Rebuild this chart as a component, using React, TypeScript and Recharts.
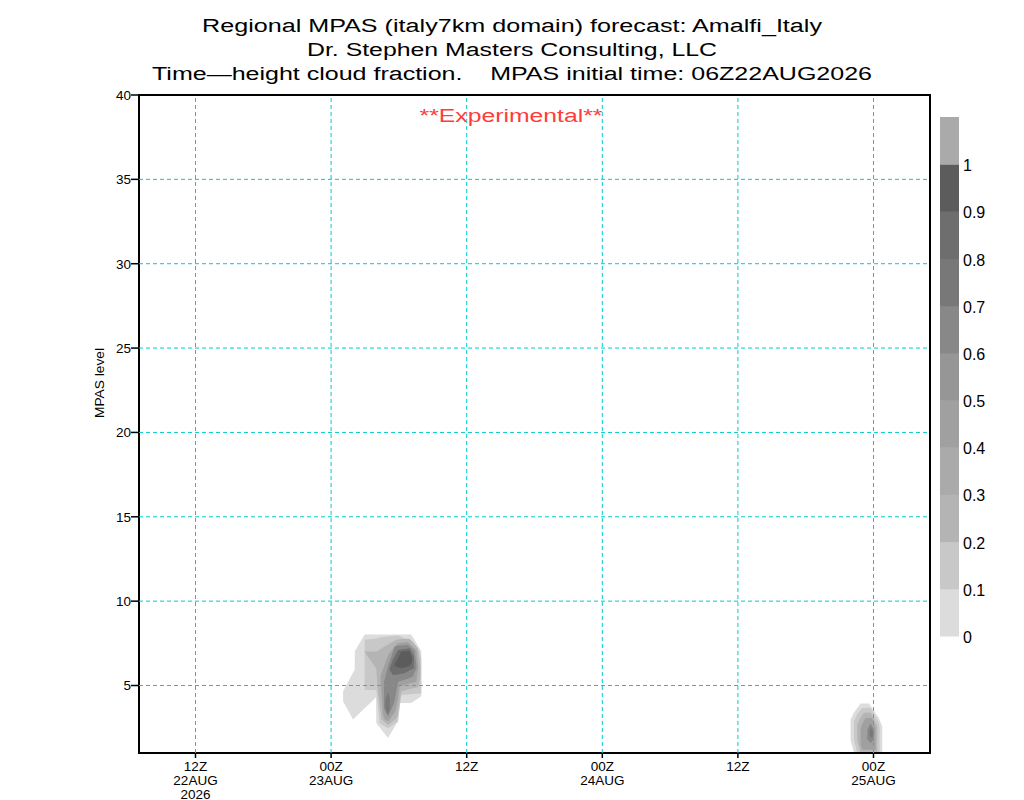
import React from 'react';
import { ComposedChart, Area, XAxis, YAxis, ReferenceLine, ReferenceArea } from 'recharts';

// ---- axes ----
const X_DOMAIN = [1, 71]; // forecast hours since 06Z22AUG2026
const X_TICKS = [6, 18, 30, 42, 54, 66];
const X_TICK_LABELS = [
  ['12Z', '22AUG', '2026'],
  ['00Z', '23AUG'],
  ['12Z'],
  ['00Z', '24AUG'],
  ['12Z'],
  ['00Z', '25AUG'],
];
const Y_DOMAIN = [1, 40];
const Y_TICKS = [5, 10, 15, 20, 25, 30, 35, 40];
const GRID_Y = [5, 10, 15, 20, 25, 30, 35];

// ---- colour bar ----
const CB_LABELS = ['0', '0.1', '0.2', '0.3', '0.4', '0.5', '0.6', '0.7', '0.8', '0.9', '1'];
const CB_SHADES = ['#dcdcdc', '#c8c8c8', '#b4b4b4', '#aaaaaa', '#a0a0a0', '#969696', '#888888', '#787878', '#6e6e6e', '#5c5c5c', '#aaaaaa'];

// ---- cloud fraction contours: [hour, lowLevel, highLevel] ----
const BLOB1_L1 = [
  [19.06, 4.07, 4.66], [19.94, 2.98, 5.75], [20.09, 3.08, 5.94], [20.1, 3.09, 7.03],
  [20.97, 3.65, 8.02], [21.98, 4.3, 8.02], [22.0, 2.78, 8.02], [23.03, 1.89, 8.02],
  [23.92, 2.88, 8.02], [24.06, 3.97, 8.02], [25.09, 3.97, 8.02], [25.98, 4.36, 7.03],
];
const BLOB1_L2 = [
  [20.97, 4.74, 7.71], [22.0, 4.74, 7.78], [22.3, 2.76, 7.85], [23.04, 2.47, 7.9],
  [23.92, 2.86, 7.96], [24.21, 4.44, 7.87], [25.24, 4.5, 7.61], [25.83, 4.53, 7.01], [25.98, 4.54, 6.6],
];
const BLOB1_L3 = [
  [20.97, 7.0, 7.02], [22.0, 6.0, 7.01], [22.1, 5.0, 7.05], [22.45, 3.02, 7.2], [23.04, 2.66, 7.43],
  [23.77, 3.05, 7.71], [23.86, 3.16, 7.73], [24.21, 4.64, 7.75], [24.95, 4.8, 7.77],
  [25.69, 4.9, 7.21], [25.89, 5.5, 6.22],
];
const BLOB1_L4 = [
  [22.39, 5.23, 5.6], [22.59, 3.26, 6.0], [22.74, 3.0, 6.22], [23.04, 2.86, 6.8], [23.68, 3.46, 7.35],
  [23.92, 4.2, 7.51], [24.07, 4.94, 7.53], [24.8, 5.1, 7.57], [25.54, 5.23, 7.11], [25.69, 6.0, 6.22],
];
const BLOB1_L5 = [
  [22.68, 3.65, 5.23], [23.04, 3.16, 6.12], [23.57, 3.95, 7.2], [23.62, 4.1, 7.31], [23.92, 5.23, 7.35],
  [24.8, 5.4, 7.41], [25.24, 5.53, 7.15], [25.39, 5.8, 7.01], [25.54, 6.0, 6.22],
];
const BLOB1_L6 = [
  [23.18, 5.9, 6.03], [23.48, 5.63, 6.55], [23.92, 5.65, 7.11], [24.51, 5.73, 7.17],
  [24.95, 5.9, 7.21], [25.33, 6.03, 6.72],
];
const BLOB1_L6B = [[22.8, 3.7, 4.1], [23.0, 3.3, 4.6], [23.2, 3.6, 4.3]];
const BLOB1_L7 = [[23.62, 6.15, 6.25], [24.21, 6.03, 7.01], [24.95, 6.15, 7.05], [25.16, 6.4, 6.62]];

const BLOB2_L1 = [[63.97, 1.79, 2.98], [64.27, 1.0, 3.4], [64.86, 1.0, 3.93], [65.6, 1.0, 3.93], [66.48, 1.0, 3.08], [66.77, 1.0, 2.59]];
const BLOB2_L2 = [[64.27, 1.79, 2.88], [64.56, 1.0, 3.3], [65.0, 1.0, 3.67], [65.74, 1.0, 3.67], [66.48, 1.0, 2.78], [66.54, 1.0, 2.5]];
const BLOB2_L3 = [[64.56, 1.79, 2.68], [64.86, 1.0, 3.1], [65.15, 1.0, 3.38], [65.74, 1.0, 3.38], [66.33, 1.0, 2.59]];
const BLOB2_L4 = [[64.86, 1.5, 2.39], [65.0, 1.2, 2.7], [65.3, 1.2, 3.08], [65.89, 1.2, 3.08], [66.18, 1.2, 2.49]];
const BLOB2_L5 = [[65.45, 1.8, 2.4], [65.75, 1.6, 2.75], [66.05, 1.8, 2.4]];
const BLOB2_L6 = [[65.65, 2.0, 2.3], [65.8, 1.9, 2.5], [65.95, 2.0, 2.3]];

const LAYERS = [
  { id: 'b1l1', data: BLOB1_L1, shade: 0 },
  { id: 'b1l2', data: BLOB1_L2, shade: 1 },
  { id: 'b1l3', data: BLOB1_L3, shade: 2 },
  { id: 'b1l4', data: BLOB1_L4, shade: 4 },
  { id: 'b1l5', data: BLOB1_L5, shade: 6 },
  { id: 'b1l6', data: BLOB1_L6, shade: 8 },
  { id: 'b1l6b', data: BLOB1_L6B, shade: 7 },
  { id: 'b1l7', data: BLOB1_L7, shade: 9 },
  { id: 'b2l1', data: BLOB2_L1, shade: 0 },
  { id: 'b2l2', data: BLOB2_L2, shade: 1 },
  { id: 'b2l3', data: BLOB2_L3, shade: 2 },
  { id: 'b2l4', data: BLOB2_L4, shade: 4 },
  { id: 'b2l5', data: BLOB2_L5, shade: 6 },
  { id: 'b2l6', data: BLOB2_L6, shade: 7 },
];

const toRows = (arr: number[][]) => arr.map(([x, lo, hi]) => ({ x, r: [lo, hi] }));

const FONT = '"Liberation Sans", Arial, sans-serif';
const GRID = '#00cccc';

const XTick = (props: any) => {
  const { x, y, payload } = props;
  const idx = X_TICKS.indexOf(payload.value);
  const lines = idx >= 0 ? X_TICK_LABELS[idx] : [];
  return (
    <g>
      {lines.map((t, i) => (
        <text key={i} x={x} y={y + 13 + i * 14} textAnchor="middle" fontSize={13.5} fontFamily={FONT} fill="#000">
          {t}
        </text>
      ))}
    </g>
  );
};

const ColorBar = () => {
  const top = 117;
  const bottom = 636;
  const h = (bottom - top) / CB_SHADES.length;
  return (
    <g>
      {CB_SHADES.map((c, i) => (
        <rect key={i} x={940} y={bottom - (i + 1) * h} width={19} height={h + 0.5} fill={c} />
      ))}
      {CB_LABELS.map((t, i) => (
        <text key={t} x={963} y={bottom - i * h + 7} fontSize={16} fontFamily={FONT} fill="#000">
          {t}
        </text>
      ))}
    </g>
  );
};

export default function App() {
  return (
    <div style={{ position: 'absolute', left: 0, top: 0, width: 1024, height: 800, background: '#fff' }}>
      <ComposedChart width={1024} height={800} margin={{ top: 95, right: 94, bottom: 0, left: 99 }}>
        <XAxis
          dataKey="x"
          type="number"
          domain={X_DOMAIN}
          ticks={X_TICKS}
          allowDataOverflow
          height={47}
          axisLine={false}
          tickLine={{ stroke: '#000', strokeWidth: 1.5 }}
          tickSize={5}
          tickMargin={0}
          tick={<XTick />}
          interval={0}
        />
        <YAxis
          type="number"
          domain={Y_DOMAIN}
          ticks={Y_TICKS}
          allowDataOverflow
          width={40}
          axisLine={false}
          tickLine={{ stroke: '#000', strokeWidth: 1.5 }}
          tickSize={8}
          tickMargin={0}
          interval={0}
          tick={{ fontSize: 13.5, fill: '#000', fontFamily: FONT }}
        />
        {LAYERS.map((l) => (
          <Area
            key={l.id}
            data={toRows(l.data)}
            dataKey="r"
            type="linear"
            stroke="none"
            fill={CB_SHADES[l.shade]}
            fillOpacity={1}
            dot={false}
            activeDot={false}
            isAnimationActive={false}
            legendType="none"
          />
        ))}
        {X_TICKS.map((x) => (
          <ReferenceLine key={'gx' + x} x={x} stroke={GRID} strokeWidth={1} strokeDasharray="4 3" />
        ))}
        {GRID_Y.map((y) => (
          <ReferenceLine key={'gy' + y} y={y} stroke={GRID} strokeWidth={1} strokeDasharray="4 3" />
        ))}
        <ReferenceArea x1={1} x2={71} y1={1} y2={40} fill="none" fillOpacity={0} stroke="#000" strokeWidth={2} />
      </ComposedChart>
      <svg width={1024} height={800} style={{ position: 'absolute', left: 0, top: 0, pointerEvents: 'none' }}>
        <text x={512} y={32} textAnchor="middle" fontSize={18} fontFamily={FONT} textLength={620} lengthAdjust="spacingAndGlyphs">
          Regional MPAS (italy7km domain) forecast: Amalfi_Italy
        </text>
        <text x={512} y={56} textAnchor="middle" fontSize={18} fontFamily={FONT} textLength={410} lengthAdjust="spacingAndGlyphs">
          Dr. Stephen Masters Consulting, LLC
        </text>
        <text x={512} y={80} textAnchor="middle" fontSize={18} fontFamily={FONT} textLength={720} lengthAdjust="spacingAndGlyphs" xmlSpace="preserve">
          Time—height cloud fraction.    MPAS initial time: 06Z22AUG2026
        </text>
        <text x={511} y={122} textAnchor="middle" fontSize={18} fontFamily={FONT} fill="#ff3c3c" textLength={183} lengthAdjust="spacingAndGlyphs">
          **Experimental**
        </text>
        <text x={104} y={383} textAnchor="middle" fontSize={13} fontFamily={FONT} transform="rotate(-90 104 383)" textLength={70} lengthAdjust="spacingAndGlyphs">
          MPAS level
        </text>
        <ColorBar />
      </svg>
    </div>
  );
}
